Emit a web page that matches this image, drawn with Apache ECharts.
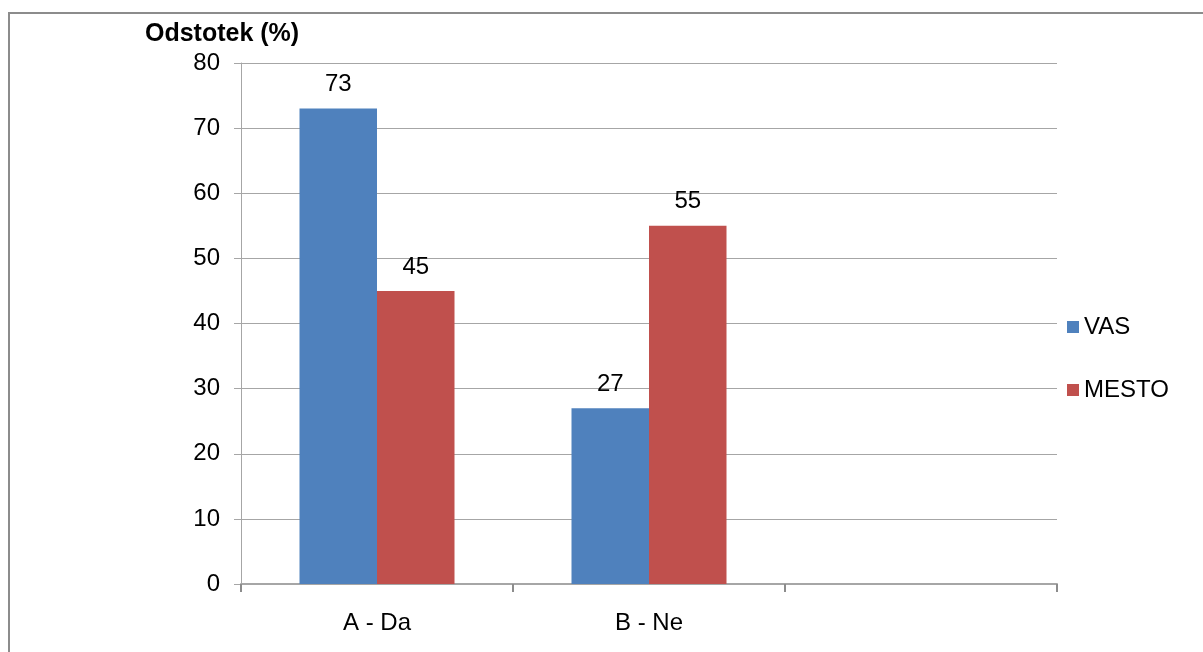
<!DOCTYPE html>
<html>
<head>
<meta charset="utf-8">
<script src="https://cdn.jsdelivr.net/npm/echarts@6/dist/echarts.min.js"></script>
<style>
  html, body { margin: 0; padding: 0; background: #fff; }
  #chart { width: 1203px; height: 652px; }
</style>
</head>
<body>
<div id="chart"></div>
<script>
// Answer categories (the third slot is an empty category)
const categories = ['A - Da', 'B - Ne', ''];
// Share of respondents per group, in percent
const vasValues = [73, 27, null];
const mestoValues = [45, 55, null];
const seriesNames = ['VAS', 'MESTO'];
const axisTitle = 'Odstotek (%)';

const FONT = '"Liberation Sans", Arial, sans-serif';
const chart = echarts.init(document.getElementById('chart'), null, { renderer: 'canvas' });

const labelStyle = {
  show: true,
  position: 'top',
  distance: 12,
  color: '#000',
  fontFamily: FONT,
  fontSize: 24
};

chart.setOption({
  animation: false,
  backgroundColor: '#fff',
  graphic: [{
    type: 'rect',
    shape: { x: 9, y: 13, width: 1300, height: 800 },
    style: { fill: 'none', stroke: '#8c8c8c', lineWidth: 2 },
    silent: true
  }, {
    type: 'text',
    x: 145,
    y: 34,
    style: {
      text: axisTitle,
      font: 'bold 25px ' + FONT,
      fill: '#000',
      verticalAlign: 'middle'
    }
  }],
  grid: { left: 241, right: 146, top: 63, bottom: 68, containLabel: false },
  legend: {
    orient: 'vertical',
    left: 1062,
    top: 310,
    itemWidth: 12,
    itemHeight: 12,
    itemGap: 39,
    icon: 'rect',
    textStyle: { fontFamily: FONT, fontSize: 24, color: '#000' },
    data: seriesNames
  },
  xAxis: {
    type: 'category',
    data: categories,
    axisLine: { lineStyle: { color: '#a6a6a6', width: 2 } },
    axisTick: { show: true, length: 8, alignWithLabel: false, lineStyle: { color: '#8c8c8c', width: 2 } },
    axisLabel: { color: '#000', fontFamily: FONT, fontSize: 24, margin: 27 },
    splitLine: { show: false }
  },
  yAxis: {
    type: 'value',
    min: 0,
    max: 80,
    interval: 10,
    axisLine: { show: true, lineStyle: { color: '#a6a6a6', width: 1 } },
    axisTick: { show: true, length: 7, lineStyle: { color: '#a6a6a6' } },
    axisLabel: { color: '#000', fontFamily: FONT, fontSize: 24, margin: 21 },
    splitLine: { lineStyle: { color: '#a6a6a6', width: 1 } }
  },
  series: [{
    name: seriesNames[0],
    type: 'bar',
    data: vasValues,
    barWidth: 77.5,
    barGap: '0%',
    itemStyle: { color: '#4f81bd' },
    label: labelStyle
  }, {
    name: seriesNames[1],
    type: 'bar',
    data: mestoValues,
    barWidth: 77.5,
    barGap: '0%',
    itemStyle: { color: '#c0504d' },
    label: labelStyle
  }]
});
</script>
</body>
</html>
